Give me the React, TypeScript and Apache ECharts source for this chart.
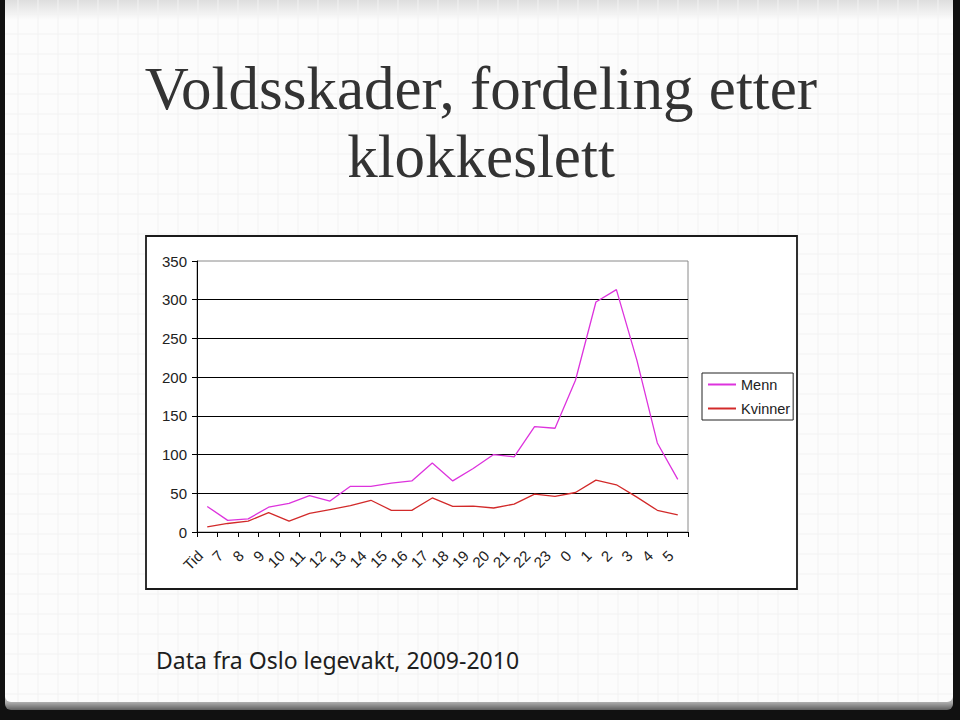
import React, { useEffect, useRef } from "react";
import * as echarts from "echarts";

const hours = ["Tid", "7", "8", "9", "10", "11", "12", "13", "14", "15", "16", "17", "18", "19", "20", "21", "22", "23", "0", "1", "2", "3", "4", "5"];
const menn = [33, 15, 17, 32, 37, 47, 40, 59, 59, 63, 66, 89, 66, 82, 100, 97, 136, 134, 196, 297, 313, 222, 115, 68];
const kvinner = [6.5, 11, 14, 25, 14, 24, 29, 34, 41, 28, 28, 44, 33, 33.5, 31, 36, 49, 46, 51, 67, 61, 45, 28, 22];
const titleLines = ["Voldsskader, fordeling etter", "klokkeslett"];
const subtitle = "Data fra Oslo legevakt, 2009-2010";

export default function App() {
  const ref = useRef<HTMLDivElement>(null);
  useEffect(() => {
    if (!ref.current) return;
    const chart = echarts.init(ref.current, undefined, { renderer: "svg" });

    const bgLines: any[] = [];
    for (let x = 18; x < 953; x += 20) {
      bgLines.push({ type: "line", z: -96, silent: true, shape: { x1: x, y1: 0, x2: x, y2: 702 }, style: { stroke: "#f2f2f2", lineWidth: 1 } });
    }
    for (let y = 14; y < 702; y += 20) {
      bgLines.push({ type: "line", z: -96, silent: true, shape: { x1: 5, y1: y, x2: 953, y2: y }, style: { stroke: "#f2f2f2", lineWidth: 1 } });
    }

    chart.setOption({
      animation: false,
      backgroundColor: "#111",
      graphic: {
        elements: [
          { type: "rect", z: -99, silent: true, shape: { x: 5, y: 690, width: 948, height: 20, r: [0, 0, 6, 6] }, style: { fill: new echarts.graphic.LinearGradient(0, 0, 0, 1, [{ offset: 0, color: "#e0e0e0" }, { offset: 0.6, color: "#b0b0b0" }, { offset: 1, color: "#606060" }]) } },
          { type: "rect", z: -98, silent: true, shape: { x: 5, y: 0, width: 948, height: 702, r: [0, 0, 6, 6] }, style: { fill: "#fcfcfc" } },
          { type: "rect", z: -97, silent: true, shape: { x: 5, y: 0, width: 948, height: 20 }, style: { fill: new echarts.graphic.LinearGradient(0, 0, 0, 1, [{ offset: 0, color: "#dedede" }, { offset: 1, color: "#fcfcfc" }]) } },
          ...bgLines,
          { type: "rect", z: -95, silent: true, shape: { x: 146, y: 236, width: 651, height: 353 }, style: { fill: "#ffffff", stroke: "#1a1a1a", lineWidth: 1.8 } },
          { type: "text", z: 10, silent: true, style: { text: titleLines[0], x: 481, y: 88, textAlign: "center", textVerticalAlign: "middle", font: "61px 'Liberation Serif'", fill: "#333333" } },
          { type: "text", z: 10, silent: true, style: { text: titleLines[1], x: 481, y: 156, textAlign: "center", textVerticalAlign: "middle", font: "61px 'Liberation Serif'", fill: "#333333" } },
          { type: "text", z: 10, silent: true, style: { text: subtitle, x: 156, y: 660, textAlign: "left", textVerticalAlign: "middle", font: "23px 'Noto Sans'", fill: "#1e1e1e" } },
        ],
      },
      grid: { left: 197, top: 261, width: 491, height: 271, show: true, borderColor: "#8a8a8a", borderWidth: 1, backgroundColor: "transparent" },
      legend: {
        orient: "vertical",
        left: 702,
        top: 373,
        padding: [4, 3, 4, 5],
        itemWidth: 28,
        itemHeight: 14,
        itemGap: 9,
        borderColor: "#222",
        borderWidth: 1,
        backgroundColor: "#fff",
        itemStyle: { opacity: 0 },
        textStyle: { fontFamily: "Liberation Sans", fontSize: 14.5, color: "#222" },
        data: ["Menn", "Kvinner"],
      },
      xAxis: {
        type: "category",
        data: hours,
        boundaryGap: true,
        axisLine: { lineStyle: { color: "#000", width: 1 } },
        axisTick: { show: true, interval: 0, length: 5, lineStyle: { color: "#000" } },
        axisLabel: { interval: 0, rotate: 45, margin: 14, padding: [0, 10, 0, 0], fontFamily: "Liberation Sans", fontSize: 15, color: "#222" },
        splitLine: { show: false },
      },
      yAxis: {
        type: "value",
        min: 0,
        max: 350,
        interval: 50,
        axisLine: { show: true, lineStyle: { color: "#000", width: 1 } },
        axisTick: { show: true, length: 5, lineStyle: { color: "#000" } },
        axisLabel: { margin: 10, fontFamily: "Liberation Sans", fontSize: 15, color: "#222" },
        splitLine: { show: true, showMaxLine: false, lineStyle: { color: "#000", width: 1 } },
      },
      series: [
        { name: "Menn", type: "line", data: menn, symbol: "none", lineStyle: { color: "#dd33dd", width: 1.3 }, itemStyle: { color: "#dd33dd" } },
        { name: "Kvinner", type: "line", data: kvinner, symbol: "none", lineStyle: { color: "#d22a2a", width: 1.3 }, itemStyle: { color: "#d22a2a" } },
      ],
    });
    return () => chart.dispose();
  }, []);
  return <div ref={ref} style={{ position: "fixed", left: 0, top: 0, width: 960, height: 720 }} />;
}
